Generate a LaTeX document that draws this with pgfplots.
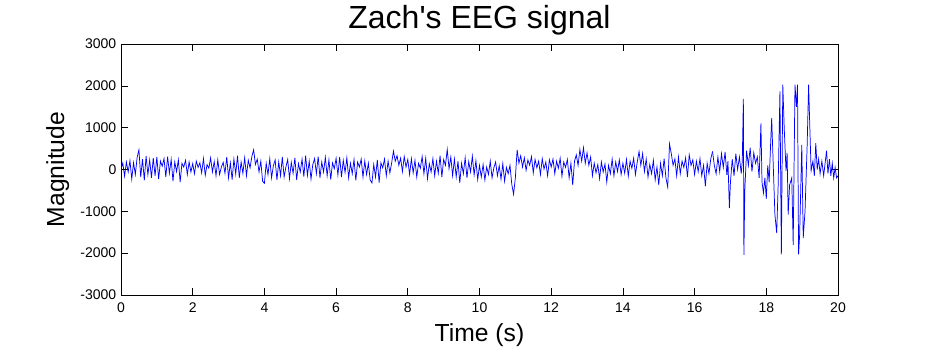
\documentclass[border=0pt]{standalone}
\usepackage{pgfplots}
\pgfplotsset{compat=1.18}
\usepackage{fontspec}
\setmainfont{Liberation Sans}
\begin{document}
\begin{tikzpicture}
\begin{axis}[
  name=ax,
  scale only axis,
  width=537.75pt, height=188.25pt,
  xmin=0, xmax=20, ymin=-3000, ymax=3000,
  xtick={0,2,...,20},
  xticklabels={0,2,4,6,8,10,12,14,16,18,20},
  ytick={-3000,-2000,-1000,0,1000,2000,3000},
  yticklabels={-3000,-2000,-1000,0,1000,2000,3000},
  tick align=inside,
  major tick length=5pt,
  xtick pos=both, ytick pos=both,
  tick label style={font=\fontsize{10.5}{12}\selectfont},
  xticklabel style={yshift=-2pt},
  title={Zach\textquotesingle s EEG signal},
  title style={font=\fontsize{24}{28}\selectfont, yshift=-3pt},
  xlabel={Time (s)},
  ylabel={Magnitude},
  label style={font=\fontsize{18.5}{22}\selectfont},
  xlabel style={yshift=-2pt},
  ylabel style={yshift=1.5pt},
  axis line style={line width=0.6pt},
  every tick/.style={black, line width=0.5pt},
]
\addplot[blue, line width=0.55pt, no marks] table[row sep=\\, header=false, x expr=\coordindex*0.05, y index=0] {
20\\150\\-160\\180\\-60\\210\\-230\\160\\-120\\290\\470\\-180\\250\\-260\\320\\-120\\230\\-200\\280\\-150\\300\\
-230\\200\\80\\260\\-180\\310\\-90\\240\\-280\\180\\-50\\230\\-300\\150\\60\\220\\-120\\180\\-60\\140\\
-100\\200\\50\\160\\-80\\260\\-140\\120\\30\\280\\-60\\190\\-150\\230\\-120\\60\\170\\-90\\300\\-200\\
160\\-240\\250\\-110\\330\\-200\\180\\-90\\280\\-150\\220\\40\\310\\470\\120\\250\\-60\\200\\-280\\-330\\
150\\-120\\260\\-200\\90\\230\\-250\\180\\-150\\300\\-180\\60\\240\\-220\\170\\-90\\280\\-250\\140\\-60\\
250\\-170\\330\\-140\\200\\-230\\120\\260\\-100\\310\\-200\\180\\-60\\290\\-150\\230\\-240\\160\\20\\270\\
-130\\300\\-180\\220\\-70\\280\\-200\\150\\-100\\240\\-260\\180\\60\\250\\-180\\200\\-120\\150\\-250\\-320\\
120\\-180\\230\\-310\\160\\40\\250\\-150\\200\\-80\\160\\440\\200\\330\\100\\270\\-50\\310\\60\\240\\
-120\\260\\-80\\220\\-180\\150\\30\\310\\-100\\270\\-220\\140\\-60\\260\\-150\\200\\-90\\330\\-180\\240\\
100\\480\\20\\300\\-150\\250\\-180\\200\\-320\\150\\-100\\280\\-200\\190\\-60\\320\\-130\\210\\-240\\100\\
-180\\120\\-250\\60\\-120\\200\\-200\\40\\180\\-150\\90\\-230\\140\\-280\\50\\-100\\100\\-350\\-590\\-200\\
470\\150\\330\\60\\280\\-20\\230\\100\\310\\-80\\240\\40\\200\\-120\\260\\10\\180\\-150\\230\\60\\
250\\-100\\200\\30\\270\\-160\\180\\50\\240\\-200\\150\\-370\\200\\350\\100\\480\\200\\520\\150\\400\\
100\\300\\-150\\150\\-80\\120\\-220\\180\\-60\\130\\-300\\100\\-100\\250\\-150\\180\\-50\\230\\-120\\150\\
-90\\240\\-160\\200\\30\\270\\-120\\180\\430\\100\\380\\-50\\250\\-180\\120\\-100\\220\\-250\\60\\-370\\
150\\-150\\260\\-200\\-420\\610\\380\\100\\250\\-150\\300\\-100\\200\\50\\280\\-180\\350\\100\\230\\-120\\
200\\-50\\260\\-150\\100\\-400\\150\\-100\\250\\430\\
};
\addplot[blue, line width=0.55pt, no marks] coordinates {
(16.5,430) (16.55,100) (16.6,-100) (16.65,300) (16.7,-50) (16.75,380) (16.8,50) (16.85,420) (16.9,-130) (16.93,200)
(16.97,-920) (17.0,-300) (17.05,250) (17.1,-150) (17.15,380) (17.2,0) (17.25,300) (17.3,-100) (17.33,200)
(17.36,1690) (17.375,-2040) (17.4,-500) (17.45,450) (17.5,100) (17.55,520) (17.6,-50) (17.65,400) (17.7,150)
(17.75,300) (17.8,-200) (17.85,1100) (17.88,-300) (17.92,-560) (17.96,-200) (18.0,-700) (18.04,100) (18.08,-300)
(18.12,600) (18.15,1230) (18.19,200) (18.24,-1080) (18.29,-1520) (18.33,-400) (18.38,1870) (18.42,-2030)
(18.46,2030) (18.5,990) (18.55,-35) (18.58,400) (18.61,-1080) (18.65,-370) (18.71,-200) (18.75,-1800)
(18.78,500) (18.8,2030) (18.84,1500) (18.87,2030) (18.9,-2030) (18.93,-1560) (18.99,590) (19.03,-1640)
(19.08,-1000) (19.14,590) (19.18,2030) (19.22,830) (19.25,-30) (19.3,200) (19.34,-150) (19.38,630) (19.42,0)
(19.46,250) (19.5,-100) (19.55,200) (19.6,-150) (19.64,150) (19.68,450) (19.72,-100) (19.76,250) (19.8,-150)
(19.84,150) (19.88,-200) (19.92,50) (19.96,-200) (20.0,-150)
};
\end{axis}
\path[use as bounding box] ([shift={(-90.75pt,-44.25pt)}]ax.south west) rectangle ([shift={(604.5pt,221.25pt)}]ax.south west);
\end{tikzpicture}
\end{document}
